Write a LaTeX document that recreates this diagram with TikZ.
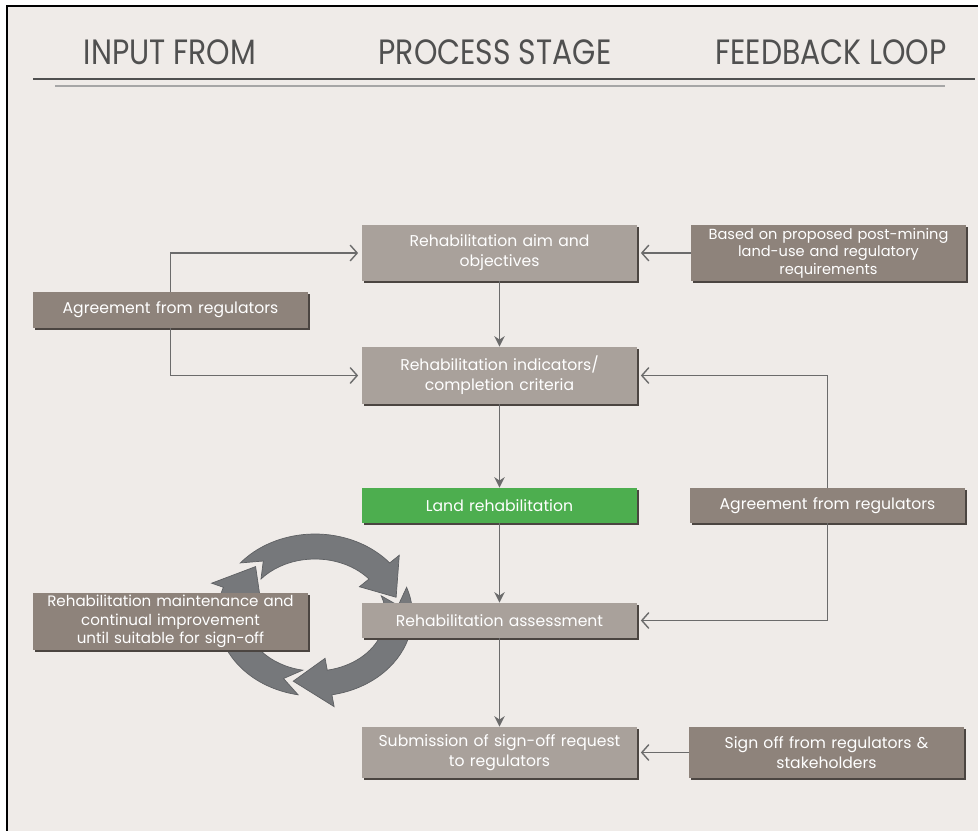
\documentclass[tikz,border=0pt]{standalone}
\usepackage{fontspec}
\setmainfont{Poppins}
\newfontfamily\headfont[FakeStretch=0.85]{Poppins}
\usetikzlibrary{arrows.meta,shadows}

\definecolor{paper}{HTML}{EFEBE8}
\definecolor{headgrey}{HTML}{505050}
\definecolor{stagegrey}{HTML}{A9A19B}
\definecolor{inputgrey}{HTML}{8E837B}
\definecolor{landgreen}{HTML}{4DAE4F}
\definecolor{boxshadow}{HTML}{4B4541}
\definecolor{linkgrey}{HTML}{6B6B6B}
\definecolor{cyclegrey}{HTML}{76787B}
\definecolor{cycleedge}{HTML}{5E6063}

\begin{document}
\begin{tikzpicture}[
    box/.style={text=white, align=center, inner sep=0pt,
        minimum width=5.5cm, text width=5.3cm,
        font=\fontsize{8.9}{11.4}\selectfont,
        general shadow={fill=boxshadow, shadow xshift=1.3pt, shadow yshift=-1.3pt}},
    stage/.style={box, fill=stagegrey},
    input/.style={box, fill=inputgrey},
    heading/.style={text=headgrey, font=\headfont\fontsize{20}{24}\selectfont},
    link/.style={draw=linkgrey, line width=0.8pt},
    down/.style={link, -{Stealth[length=6pt,width=6pt]}},
    across/.style={link, -{Straight Barb[length=4pt,width=9pt]}, shorten >=2pt},
]
    \useasboundingbox (0,0) rectangle (19.56,-16.62);

    % paper and frame
    \fill[paper] (0.14,-0.12) rectangle (19.56,-16.62);
    \draw[black, line width=1.7pt] (0.14,-16.62) -- (0.14,-0.12) -- (19.56,-0.12);

    % column headings
    \node[heading] (hinput) at (3.40,-1.04) {INPUT FROM};
    \node[heading] (hprocess) at (9.90,-1.04) {PROCESS STAGE};
    \node[heading] (hfeedback) at (16.62,-1.04) {FEEDBACK LOOP};
    \draw[headgrey, line width=1.6pt] (0.66,-1.58) -- (19.50,-1.58);
    \draw[black!35, line width=0.9pt] (1.10,-1.72) -- (18.90,-1.72);

    % maintenance cycle behind the boxes
    \begin{scope}[shift={(6.30,-12.30)}]
        \foreach \t/\b/\p in {140/40/15, 20/-80/-105, -100/-200/-225}{
            \pgfmathsetmacro\nt{\t-12}
            \filldraw[fill=cyclegrey, draw=cycleedge, line width=0.4pt]
                (\t:1.95 and 1.62) arc[start angle=\t, end angle=\b, x radius=1.95, y radius=1.62]
                -- (\b:2.2 and 1.86) -- (\p:1.68 and 1.37) -- (\b:1.16 and 0.88)
                -- (\b:1.41 and 1.12) arc[start angle=\b, end angle=\t, x radius=1.41, y radius=1.12]
                -- (\nt:1.68 and 1.37) -- cycle;
        }
    \end{scope}

    % process stage
    \node[stage, minimum height=1.12cm] (aim) at (9.99,-5.06) {Rehabilitation aim and\\objectives};
    \node[stage, minimum height=1.14cm] (indicators) at (9.99,-7.51) {Rehabilitation indicators/\\completion criteria};
    \node[box, fill=landgreen, minimum height=0.70cm] (landrehab) at (9.99,-10.11) {Land rehabilitation};
    \node[stage, minimum height=0.70cm] (assess) at (9.99,-12.41) {Rehabilitation assessment};
    \node[stage, minimum height=1.02cm] (submit) at (9.99,-15.05) {Submission of sign-off request\\to regulators};

    % inputs and feedback
    \node[input, minimum height=0.72cm] (agreeleft) at (3.41,-6.20) {Agreement from regulators};
    \node[input, minimum height=1.14cm, font=\fontsize{8.6}{10.6}\selectfont] (maint) at (3.41,-12.43) {Rehabilitation maintenance and\\continual improvement\\until suitable for sign-off};
    \node[input, minimum height=1.12cm, font=\fontsize{8.3}{10}\selectfont] (based) at (16.57,-5.06) {Based on proposed post-mining\\land-use and regulatory\\requirements};
    \node[input, minimum height=0.70cm] (agreeright) at (16.55,-10.11) {Agreement from regulators};
    \node[input, minimum height=1.02cm] (signoff) at (16.53,-15.05) {Sign off from regulators \&\\stakeholders};

    % down the process
    \draw[down] (aim) -- (indicators);
    \draw[down] (indicators) -- (landrehab);
    \draw[down] (landrehab) -- (assess);
    \draw[down] (assess) -- (submit);

    % side links
    \draw[across] (agreeleft.north) |- (aim.west);
    \draw[across] (agreeleft.south) |- (indicators.west);
    \draw[across] (based) -- (aim);
    \draw[across] (agreeright.north) |- (indicators.east);
    \draw[across] (agreeright.south) |- (assess.east);
    \draw[across] (signoff) -- (submit);
\end{tikzpicture}
\end{document}
